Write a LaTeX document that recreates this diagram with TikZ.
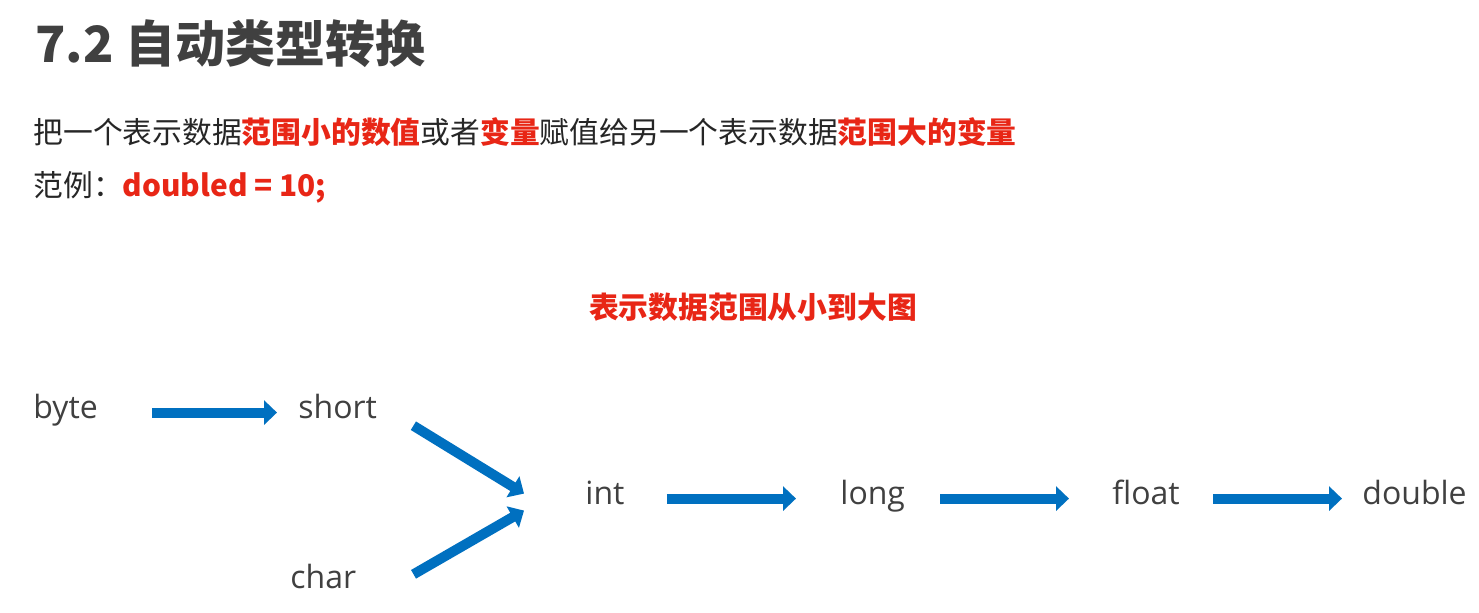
\documentclass[tikz,border=0pt]{standalone}
\usepackage{fontspec}
\setmainfont{Noto Sans CJK SC}
\newfontfamily\typefont{Open Sans}
\usetikzlibrary{arrows.meta,positioning,calc}
\definecolor{TitleGray}{RGB}{64,64,64}
\definecolor{BodyGray}{RGB}{38,38,38}
\definecolor{LabelGray}{RGB}{64,64,64}
\definecolor{AccentRed}{RGB}{232,38,22}
\definecolor{ArrowBlue}{RGB}{0,112,192}
\newcommand{\redbold}[1]{{\bfseries\color{AccentRed}#1}}
\tikzset{
  titletext/.style={font=\fontsize{25}{30}\selectfont\bfseries, text=TitleGray,
    inner sep=0pt, anchor=base west},
  bodytext/.style={font=\fontsize{14.9}{18}\selectfont, text=BodyGray,
    inner sep=0pt, anchor=base west},
  typelabel/.style={font=\typefont\fontsize{16}{19}\selectfont, text=LabelGray,
    inner sep=0pt, anchor=base west},
  typearr/.style={-{Triangle[length=6.5pt, width=12pt]}, line width=5pt, ArrowBlue},
}

\begin{document}
\begin{tikzpicture}[x=0.5pt, y=-0.5pt]
    \fill[white] (0,0) rectangle (1479,612);
    \useasboundingbox (0,0) rectangle (1479,612);

    % ---- titulo y texto ----
    \node[titletext] (title) at (35,62) {7.2 自动类型转换};
    \node[bodytext] (intro) at (33,143)
      {把一个表示数据\redbold{范围小的数值}或者\redbold{变量}赋值给另一个表示数据\redbold{范围大的变量}};
    \node[bodytext] (sample) at (33,196) {范例：\redbold{doubled = 10;}};
    \node[bodytext, anchor=base] (caption) at (753,318) {\redbold{表示数据范围从小到大图}};

    % ---- tipos ----
    \node[typelabel] (byte) at (33,418) {byte};
    \node[typelabel] (short) at (298,418) {short};
    \node[typelabel] (char) at (290,588) {char};
    \node[typelabel] (int) at (585,504) {int};
    \node[typelabel] (long) at (840,504) {long};
    \node[typelabel] (float) at (1112,504) {float};
    \node[typelabel] (double) at (1362,504) {double};

    \draw[typearr] ([xshift=27pt]byte.mid east) -- ([xshift=-10.5pt]short.mid west);
    \draw[typearr] ([xshift=18pt, yshift=-3.5pt]short.south east)
      -- ([xshift=-30.5pt, yshift=2.5pt]int.mid west);
    \draw[typearr] ([xshift=28.5pt, yshift=-5.5pt]char.north east)
      -- ([xshift=-30.5pt, yshift=-6pt]int.mid west);
    \draw[typearr] ([xshift=21pt]int.mid east) -- ([xshift=-22pt]long.mid west);
    \draw[typearr] ([xshift=17.5pt]long.mid east) -- ([xshift=-21.5pt]float.mid west);
    \draw[typearr] ([xshift=16.5pt]float.mid east) -- ([xshift=-10pt]double.mid west);
\end{tikzpicture}
\end{document}
